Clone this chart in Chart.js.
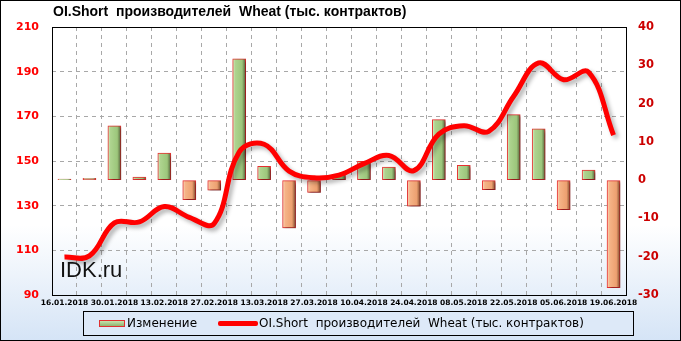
<!DOCTYPE html>
<html>
<head>
<meta charset="utf-8">
<script src="https://cdn.jsdelivr.net/npm/chart.js@4"></script>
<style>
  html, body { margin: 0; padding: 0; }
  #wrap { position: relative; width: 681px; height: 341px; overflow: hidden; }
  #chart { position: absolute; left: 0; top: 0; }
  .title {
    position: absolute; left: 53px; top: 3px;
    font: bold 14px "Liberation Sans", sans-serif; color: #000; white-space: pre;
  }
  .mark {
    position: absolute; left: 60px; top: 257px;
    font: 22px "Liberation Sans", sans-serif; color: #111;
  }
  .legend {
    position: absolute; left: 83px; top: 311px; width: 549px; height: 23px;
    background: #dde9f8; border: 1px solid #000;
    font: 12px "DejaVu Sans", sans-serif; color: #000; white-space: pre;
  }
  .legend span { position: absolute; top: 4px; }
  .sw-bar {
    position: absolute; left: 15px; top: 8px; width: 24px; height: 5px;
    background: linear-gradient(#c6e2ad, #8fb36f); border: 1px solid #e03030;
  }
  .sw-line { position: absolute; left: 134px; top: 9px; width: 40px; height: 5px; background: #ff0000; border-radius: 2px; }
</style>
</head>
<body>
<div id="wrap">
  <canvas id="chart" width="681" height="341"></canvas>
  <div class="title">OI.Short  производителей  Wheat (тыс. контрактов)</div>
  <div class="mark">IDK.ru</div>
  <div class="legend">
    <div class="sw-bar"></div><span style="left:43px">Изменение</span>
    <div class="sw-line"></div><span style="left:175px">OI.Short  производителей  Wheat (тыс. контрактов)</span>
  </div>
</div>
<script>
// ---------------------------------------------------------------------------
// Data
// ---------------------------------------------------------------------------
const DATES = [
    '16.01.2018', '23.01.2018', '30.01.2018', '06.02.2018', '13.02.2018', '20.02.2018',
    '27.02.2018', '06.03.2018', '13.03.2018', '20.03.2018', '27.03.2018', '03.04.2018',
    '10.04.2018', '17.04.2018', '24.04.2018', '01.05.2018', '08.05.2018', '15.05.2018',
    '22.05.2018', '29.05.2018', '05.06.2018', '12.06.2018', '19.06.2018',
];
// OI.Short (left axis, thousands of contracts)
const SHORT_OI = [
    107, 107.5, 122.3, 122.7, 129.6, 124.8, 122, 154, 157.5, 145.5, 142.5, 143.7,
    148.8, 152.5, 145.7, 162, 165.8, 163.3, 179, 193.9, 186.4, 189.8, 161.6,
];
// Weekly change (right axis)
const CHANGE = [
    0.3, 0.5, 14.2, 0.8, 7.1, -5.1, -2.6, 31.7, 3.6, -12.5, -3.2, 1.4,
    4.9, 3.4, -6.8, 15.8, 3.9, -2.5, 17.1, 13.4, -7.7, 2.6, -28.1,
];

const LEFT_TICKS = { min: 90, max: 210, step: 20 };
const RIGHT_TICKS = { min: -30, max: 40, step: 10 };

// ---------------------------------------------------------------------------
// Helpers
// ---------------------------------------------------------------------------
const BAR_W = 13;
const GRID_DASH = [4, 4];

function barFill(c) {
    const chart = c.chart;
    const xs = chart.scales && chart.scales.x;
    const pos = CHANGE[c.dataIndex] >= 0;
    if (!xs || !chart.chartArea) return pos ? '#a9d08e' : '#f4b183';
    const cx = xs.getPixelForValue(c.dataIndex);
    const g = chart.ctx.createLinearGradient(cx - BAR_W / 2, 0, cx + BAR_W / 2, 0);
    if (pos) {
        g.addColorStop(0, '#dcefcb');
        g.addColorStop(0.2, '#aed48f');
        g.addColorStop(0.72, '#9cc67b');
        g.addColorStop(1, '#56603a');
    } else {
        g.addColorStop(0, '#fddcc2');
        g.addColorStop(0.2, '#f5b487');
        g.addColorStop(0.72, '#eda070');
        g.addColorStop(1, '#7e4a2e');
    }
    return g;
}

const backdrop = {
    id: 'backdrop',
    beforeDraw(chart) {
        const { ctx, width, height } = chart;
        const g = ctx.createLinearGradient(0, 0, 0, height);
        g.addColorStop(0, '#ffffff');
        g.addColorStop(0.66, '#ffffff');
        g.addColorStop(1, '#d5e4f6');
        ctx.save();
        ctx.fillStyle = g;
        ctx.fillRect(0, 0, width, height);
        ctx.restore();
    },
    afterDraw(chart) {
        const { ctx, chartArea: a, width, height } = chart;
        ctx.save();
        ctx.strokeStyle = '#000';
        ctx.lineWidth = 1;
        ctx.strokeRect(Math.round(a.left) + 0.5, Math.round(a.top) + 0.5,
            Math.round(a.right - a.left), Math.round(a.bottom - a.top));
        ctx.strokeRect(0.5, 0.5, width - 1, height - 1);
        ctx.restore();
    },
};

const shadows = {
    id: 'shadows',
    beforeDatasetDraw(chart, args) {
        const ctx = chart.ctx;
        ctx.save();
        if (args.meta.type === 'line') {
            ctx.shadowColor = 'rgba(0,0,0,0.3)';
            ctx.shadowBlur = 4;
            ctx.shadowOffsetX = 3;
            ctx.shadowOffsetY = 3;
        } else {
            ctx.shadowColor = 'rgba(0,0,0,0.45)';
            ctx.shadowBlur = 3;
            ctx.shadowOffsetX = 2;
            ctx.shadowOffsetY = 2;
        }
    },
    afterDatasetDraw(chart) {
        chart.ctx.restore();
    },
};

// ---------------------------------------------------------------------------
// Chart
// ---------------------------------------------------------------------------
new Chart(document.getElementById('chart'), {
    data: {
        labels: DATES,
        datasets: [
            {
                type: 'line',
                label: 'OI.Short  производителей  Wheat (тыс. контрактов)',
                data: SHORT_OI,
                yAxisID: 'y',
                borderColor: '#ff0000',
                borderWidth: 5,
                pointRadius: 0,
                tension: 0.4,
                fill: false,
                order: 0,
            },
            {
                type: 'bar',
                label: 'Изменение',
                data: CHANGE,
                yAxisID: 'y1',
                backgroundColor: barFill,
                borderColor: '#e83030',
                borderWidth: 1,
                borderSkipped: false,
                barThickness: BAR_W,
                order: 1,
            },
        ],
    },
    options: {
        responsive: false,
        animation: false,
        layout: { padding: { top: 27, left: 0, right: 0, bottom: 34 } },
        plugins: { legend: { display: false }, tooltip: { enabled: false } },
        scales: {
            x: {
                offset: true,
                grid: { offset: true, drawTicks: false, color: '#a8a8a8', borderDash: GRID_DASH },
                border: { display: true, width: 0, dash: GRID_DASH },
                ticks: {
                    autoSkip: false, maxRotation: 0, padding: 4, color: '#000',
                    font: { family: 'DejaVu Sans', weight: 'bold', size: 7.5 },
                    callback: (v, i) => (i % 2 === 0 ? DATES[i] : ''),
                },
                afterFit: s => { s.height = 12; },
            },
            y: {
                position: 'left',
                min: LEFT_TICKS.min, max: LEFT_TICKS.max,
                grid: { drawTicks: false, color: '#a8a8a8', borderDash: GRID_DASH },
                border: { display: true, width: 0, dash: GRID_DASH },
                ticks: {
                    stepSize: LEFT_TICKS.step, padding: 13, color: '#ff0000',
                    font: { family: 'DejaVu Sans', weight: 'bold', size: 11 },
                },
                afterFit: s => { s.width = 52; },
            },
            y1: {
                position: 'right',
                min: RIGHT_TICKS.min, max: RIGHT_TICKS.max,
                grid: { drawOnChartArea: false, drawTicks: false },
                border: { display: false },
                ticks: {
                    stepSize: RIGHT_TICKS.step, padding: 12, color: '#cc0000',
                    font: { family: 'DejaVu Sans', weight: 'bold', size: 11.5 },
                },
                afterFit: s => { s.width = 55; },
            },
        },
    },
    plugins: [backdrop, shadows],
});
</script>
</body>
</html>
